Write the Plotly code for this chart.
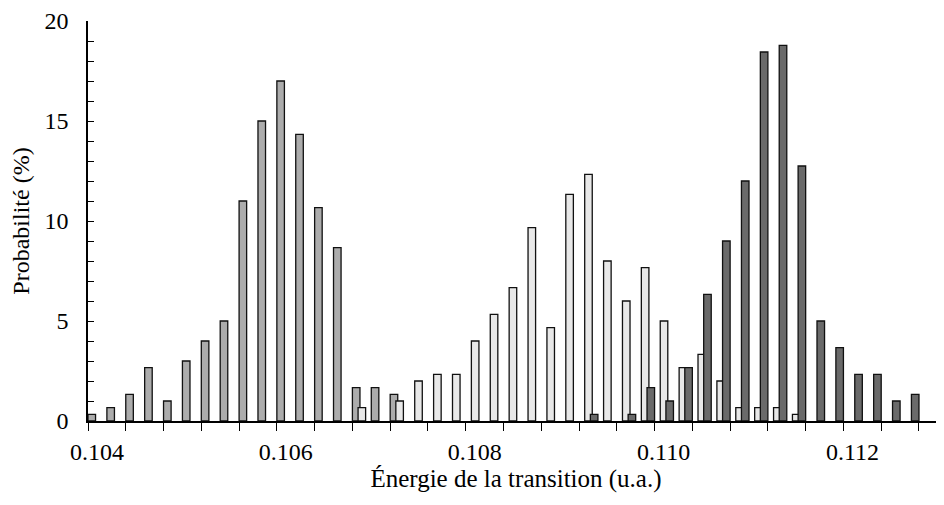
import plotly.graph_objects as go

# bins (left edge of each bin, u.a.)
energie = [0.1040, 0.1042, 0.1044, 0.1046, 0.1048, 0.1050, 0.1052, 0.1054, 0.1056, 0.1058,
           0.1060, 0.1062, 0.1064, 0.1066, 0.1068, 0.1070, 0.1072, 0.1074, 0.1076, 0.1078,
           0.1080, 0.1082, 0.1084, 0.1086, 0.1088, 0.1090, 0.1092, 0.1094, 0.1096, 0.1098,
           0.1100, 0.1102, 0.1104, 0.1106, 0.1108, 0.1110, 0.1112, 0.1114, 0.1116, 0.1118,
           0.1120, 0.1122, 0.1124, 0.1126]

# probabilities (%) per bin, None where no bar
serie_1 = [0.33, 0.67, 1.33, 2.67, 1.0, 3.0, 4.0, 5.0, 11.0, 15.0,
           17.0, 14.33, 10.67, 8.67, 1.67, 1.67, 1.33, None, None, None,
           None, None, None, None, None, None, None, None, None, None,
           None, None, None, None, None, None, None, None, None, None,
           None, None, None, None]
serie_2 = [None, None, None, None, None, None, None, None, None, None,
           None, None, None, None, 0.67, None, 1.0, 2.0, 2.33, 2.33,
           4.0, 5.33, 6.67, 9.67, 4.67, 11.33, 12.33, 8.0, 6.0, 7.67,
           5.0, 2.67, 3.33, 2.0, 0.67, 0.67, 0.67, 0.33, None, None,
           None, None, None, None]
serie_3 = [None, None, None, None, None, None, None, None, None, None,
           None, None, None, None, None, None, None, None, None, None,
           None, None, None, None, None, None, 0.33, None, 0.33, 1.67,
           1.0, 2.67, 6.33, 9.0, 12.0, 18.45, 18.78, 12.75, 5.0, 3.67,
           2.33, 2.33, 1.0, 1.33]

fig = go.Figure()
for vals, col, off in [(serie_1, "#acacac", 0.0), (serie_2, "#e8e8e8", 0.00006), (serie_3, "#6a6a6a", 0.00012)]:
    fig.add_trace(go.Bar(x=energie, y=vals, width=0.00008, offset=off,
                         marker=dict(color=col, line=dict(color="#111111", width=1.3)),
                         showlegend=False))

xr = [0.104, 0.113065]
font = dict(family="Liberation Serif, 'Times New Roman', Times, serif", size=24, color="black")
# page body adds an 8px offset, so the figure is a bit smaller than the window
fig.update_layout(
    width=936, height=497,
    margin=dict(l=80, r=0, t=13, b=84, autoexpand=False),
    barmode="overlay",
    plot_bgcolor="white", paper_bgcolor="white",
    font=font,
    xaxis=dict(range=xr, tickvals=[0.104, 0.106, 0.108, 0.110, 0.112],
               ticktext=["0.104", "0.106", "0.108", "0.110", "0.112"],
               ticks="outside", ticklen=8, tickwidth=1.3, tickcolor="black",
               minor=dict(dtick=0.0004, tick0=0.104, ticks="outside", ticklen=8, tickwidth=1.3, tickcolor="black"),
               showline=True, linecolor="black", linewidth=1.5, showgrid=False, zeroline=False,
               ticklabelshift=9, ticklabelstandoff=0, automargin=False,
               title=dict(text="Énergie de la transition (u.a.)", standoff=6, font=dict(size=25))),
    xaxis2=dict(range=xr, overlaying="x", side="top", matches="x",
                tickvals=[0.104, 0.106, 0.108, 0.110, 0.112], showticklabels=False,
                ticks="inside", ticklen=8, tickwidth=1.3, tickcolor="black",
                minor=dict(dtick=0.0004, tick0=0.104, ticks="inside", ticklen=8, tickwidth=1.3, tickcolor="black"),
                showline=True, linecolor="black", linewidth=1.5, showgrid=False, zeroline=False,
                automargin=False),
    yaxis=dict(range=[0, 20], dtick=5, ticks="inside", ticklen=6, tickwidth=1.3, tickcolor="black",
               minor=dict(dtick=1, ticks="inside", ticklen=6, tickwidth=1.3, tickcolor="black"),
               showline=True, linecolor="black", linewidth=1.5, showgrid=False, zeroline=False,
               ticklabelstandoff=13, automargin=False,
               title=dict(text="Probabilité (%)", standoff=10, font=dict(size=24))),
)

fig.write_html("out.html")
